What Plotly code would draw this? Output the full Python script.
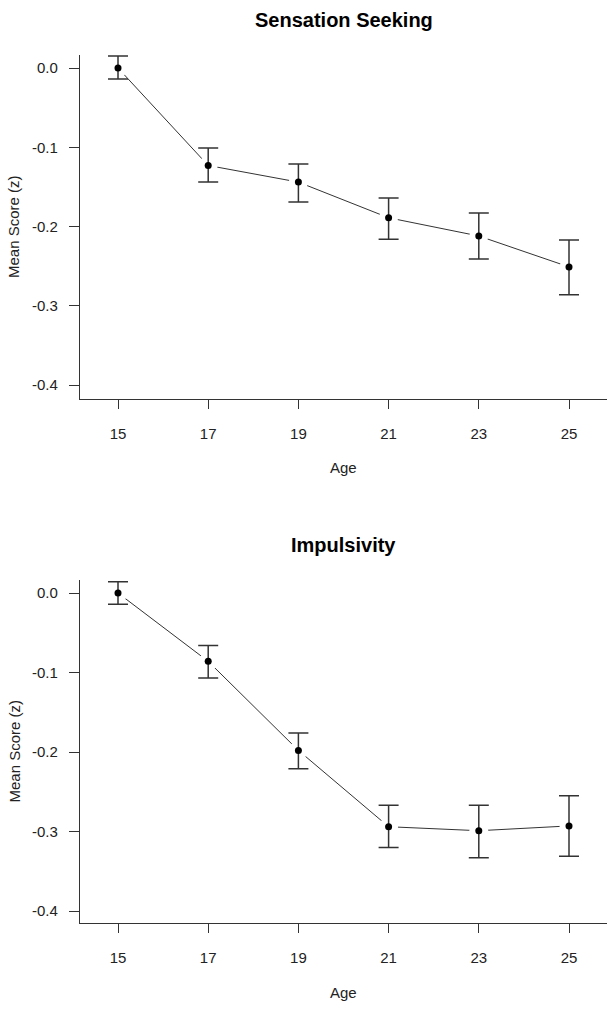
import plotly.graph_objects as go

ages = [15, 17, 19, 21, 23, 25]

ss_mean = [0.0, -0.123, -0.144, -0.189, -0.212, -0.251]
ss_upper = [0.015, -0.101, -0.121, -0.164, -0.183, -0.217]
ss_lower = [-0.014, -0.144, -0.169, -0.216, -0.241, -0.286]

imp_mean = [0.0, -0.086, -0.198, -0.294, -0.299, -0.293]
imp_upper = [0.014, -0.066, -0.176, -0.267, -0.267, -0.255]
imp_lower = [-0.014, -0.107, -0.221, -0.320, -0.333, -0.331]

titles = ["Sensation Seeking", "Impulsivity"]
x_ticks = [15, 17, 19, 21, 23, 25]
y_ticks = [0.0, -0.1, -0.2, -0.3, -0.4]
y_tick_text = ["0.0", "-0.1", "-0.2", "-0.3", "-0.4"]

W, H = 614, 1015
FONT = "Liberation Sans, Arial, sans-serif"
INK = "#222222"
LINE = "#333333"

fig = go.Figure()

panels = [
    dict(mean=ss_mean, up=ss_upper, lo=ss_lower, top=55, bottom=399, zero=68, ppu=792.5, xa="x", ya="y"),
    dict(mean=imp_mean, up=imp_upper, lo=imp_lower, top=580, bottom=923, zero=593, ppu=795.0, xa="x2", ya="y2"),
]

for p in panels:
    plus = [u - m for u, m in zip(p["up"], p["mean"])]
    minus = [m - l for m, l in zip(p["mean"], p["lo"])]
    # connecting line
    fig.add_trace(go.Scatter(x=ages, y=p["mean"], mode="lines",
                             line=dict(color=LINE, width=1), xaxis=p["xa"], yaxis=p["ya"],
                             hoverinfo="skip", showlegend=False))
    # white gaps around points (R type="b")
    fig.add_trace(go.Scatter(x=ages, y=p["mean"], mode="markers",
                             marker=dict(color="#ffffff", size=19, opacity=1, line=dict(width=0)),
                             xaxis=p["xa"], yaxis=p["ya"], hoverinfo="skip", showlegend=False))
    # points with error bars
    fig.add_trace(go.Scatter(x=ages, y=p["mean"], mode="markers",
                             marker=dict(color="black", size=7),
                             error_y=dict(type="data", symmetric=False, array=plus, arrayminus=minus,
                                          color=LINE, thickness=1.5, width=10),
                             xaxis=p["xa"], yaxis=p["ya"], showlegend=False))

x_left = 15 - 38 / 45.1
x_right = 25 + 38 / 45.1

layout = dict(
    width=W, height=H,
    margin=dict(l=0, r=0, t=0, b=0),
    paper_bgcolor="white", plot_bgcolor="white",
    font=dict(family=FONT, color=INK, size=15),
    showlegend=False,
)

annotations = []
for i, p in enumerate(panels):
    sfx = "" if i == 0 else "2"
    ytop = (p["zero"] - p["top"]) / p["ppu"]
    ybot = -(p["bottom"] - p["zero"]) / p["ppu"]
    layout["xaxis" + sfx] = dict(
        domain=[80 / W, 607 / W], range=[x_left, x_right],
        tickvals=x_ticks, ticktext=[str(t) for t in x_ticks],
        ticks="outside", ticklen=9, tickwidth=1.3, tickcolor=LINE,
        showline=True, linecolor=LINE, linewidth=1.3, showgrid=False, zeroline=False,
        tickfont=dict(size=15, color=INK), ticklabelstandoff=12,
        anchor="y" + sfx, automargin=False,
    )
    layout["yaxis" + sfx] = dict(
        domain=[1 - p["bottom"] / H, 1 - p["top"] / H], range=[ybot, ytop],
        tickvals=y_ticks, ticktext=y_tick_text,
        ticks="outside", ticklen=10, tickwidth=1.3, tickcolor=LINE,
        showline=True, linecolor=LINE, linewidth=1.3, showgrid=False, zeroline=False,
        tickfont=dict(size=15, color=INK), ticklabelstandoff=8,
        anchor="x" + sfx, automargin=False,
    )
    title_y = 19.5 + (p["zero"] - 68)
    annotations.append(dict(text="<b>" + titles[i] + "</b>", x=343.5 / W, y=1 - title_y / H,
                            xref="paper", yref="paper", showarrow=False,
                            font=dict(size=20, color="black", family=FONT),
                            xanchor="center", yanchor="middle"))
    annotations.append(dict(text="Age", x=343.5 / W, y=1 - (p["bottom"] + 69) / H,
                            xref="paper", yref="paper", showarrow=False,
                            font=dict(size=15, color=INK, family=FONT),
                            xanchor="center", yanchor="middle"))
    annotations.append(dict(text="Mean Score (z)", x=14 / W, y=1 - ((p["top"] + p["bottom"]) / 2) / H,
                            xref="paper", yref="paper", showarrow=False, textangle=-90,
                            font=dict(size=15, color=INK, family=FONT),
                            xanchor="center", yanchor="middle"))

layout["annotations"] = annotations
fig.update_layout(**layout)
fig.write_html("out.html", config={"displayModeBar": False},
               post_script="document.body.style.margin='0';")
